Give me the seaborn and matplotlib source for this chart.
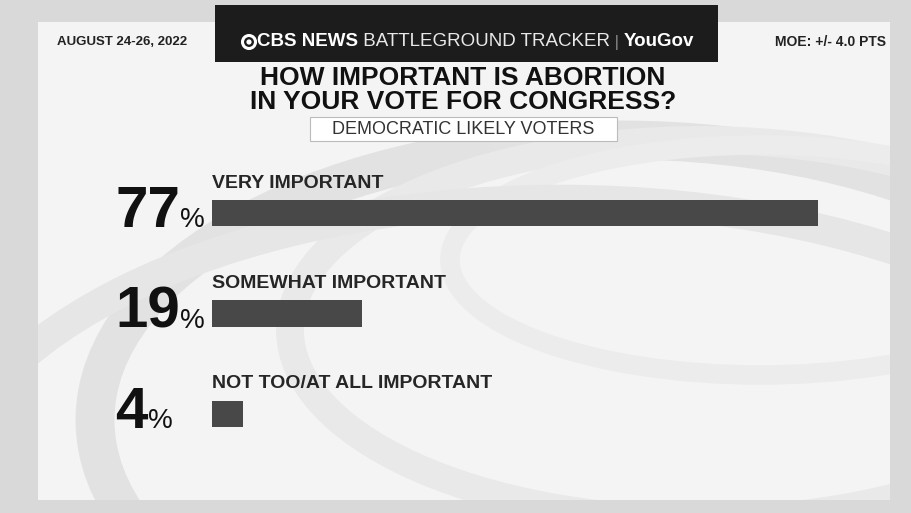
import matplotlib.pyplot as plt
import seaborn as sns
from matplotlib.patches import Rectangle, Ellipse, Circle

# data
categories = ['VERY IMPORTANT', 'SOMEWHAT IMPORTANT', 'NOT TOO/AT ALL IMPORTANT']
values = [77, 19, 4]
value_labels = ['77', '19', '4']

sns.set_theme(style='white')
plt.rcParams['font.family'] = ['Liberation Sans', 'DejaVu Sans']

fig = plt.figure(figsize=(9.12, 5.13), dpi=100)
fig.patch.set_facecolor('#d9d9d9')

# background layer in pixel units
bg = fig.add_axes([0, 0, 1, 1])
bg.set_xlim(0, 912)
bg.set_ylim(513, 0)
bg.axis('off')
bg.add_patch(Rectangle((38, 22), 852, 478, facecolor='#f4f4f4', edgecolor='none'))
# soft swooshes
for (cx, cy, w, h, c, lw) in [(620, 420, 1050, 560, '#e2e2e2', 28),
                               (700, 330, 820, 380, '#e9e9e9', 20),
                               (760, 260, 620, 230, '#ececec', 14),
                               (560, 520, 1250, 640, '#e6e6e6', 22)]:
    bg.add_patch(Ellipse((cx, cy), w, h, facecolor='none', edgecolor=c, lw=lw))
for r in [(0, 0, 38, 513), (890, 0, 22, 513), (0, 0, 912, 22), (0, 500, 912, 13)]:
    bg.add_patch(Rectangle(r[:2], r[2], r[3], facecolor='#d9d9d9', edgecolor='none', zorder=3))

# header box
bg.add_patch(Rectangle((215, 5), 503, 57, facecolor='#1c1c1c', edgecolor='none', zorder=4))
bg.add_patch(Circle((249, 42), 6.5, facecolor='none', edgecolor='white', lw=2.2, zorder=5))
bg.add_patch(Circle((249, 42), 2.6, facecolor='white', edgecolor='none', zorder=5))
t1 = bg.text(257, 42, 'CBS NEWS', color='white', fontsize=13.5, fontweight='bold',
             va='center', ha='left', zorder=6)
t2 = bg.annotate(' BATTLEGROUND TRACKER', xy=(1, 0.5), xycoords=t1, va='center', ha='left',
                 color='#e8e8e8', fontsize=13.5, zorder=6)
t3 = bg.annotate(' | ', xy=(1, 0.5), xycoords=t2, va='center', ha='left',
                 color='#888888', fontsize=12, zorder=6)
bg.annotate('YouGov', xy=(1, 0.5), xycoords=t3, va='center', ha='left',
            color='white', fontsize=13.5, fontweight='bold', zorder=6)

bg.text(57, 42, 'AUGUST 24-26, 2022', color='#222222', fontsize=9.5, fontweight='bold',
        va='center', ha='left', zorder=6)
bg.text(886, 42, 'MOE: +/- 4.0 PTS', color='#222222', fontsize=10, fontweight='bold',
        va='center', ha='right', zorder=6)

bg.text(463, 78, 'HOW IMPORTANT IS ABORTION', color='#111111', fontsize=19,
        fontweight='bold', va='center', ha='center', zorder=6)
bg.text(463, 102, 'IN YOUR VOTE FOR CONGRESS?', color='#111111', fontsize=19,
        fontweight='bold', va='center', ha='center', zorder=6)
bg.add_patch(Rectangle((310, 117), 307, 24, facecolor='white', edgecolor='#bbbbbb',
                       lw=0.8, zorder=5))
bg.text(463, 129, 'DEMOCRATIC LIKELY VOTERS', color='#333333', fontsize=13,
        va='center', ha='center', zorder=6)

# main bars
ax = fig.add_axes([212 / 912, 49 / 513, 669 / 912, 301 / 513])
ax.patch.set_alpha(0)
sns.barplot(x=values, y=categories, orient='h', color='#484848', saturation=1,
            width=0.26, linewidth=0, ax=ax, zorder=3)
ax.set_xlim(0, 85)
ax.set_ylim(2.5, -0.5)
ax.set_xlabel('')
ax.set_ylabel('')
ax.set_xticks([])
ax.set_yticks([])
for s in ax.spines.values():
    s.set_visible(False)

for i, (cat, lab) in enumerate(zip(categories, value_labels)):
    ax.text(0, i - 0.30, cat, color='#262626', fontsize=14, fontweight='bold',
            va='center', ha='left')
    num = ax.text(-12.3, i + 0.14, lab, color='#111111', fontsize=42, fontweight='bold',
                  va='baseline', ha='left')
    ax.annotate('%', xy=(1, i + 0.14), xycoords=(num, 'data'), xytext=(0, 0),
                textcoords='offset points', color='#111111', fontsize=20,
                va='baseline', ha='left')

fig.savefig('out.png', dpi=100)
